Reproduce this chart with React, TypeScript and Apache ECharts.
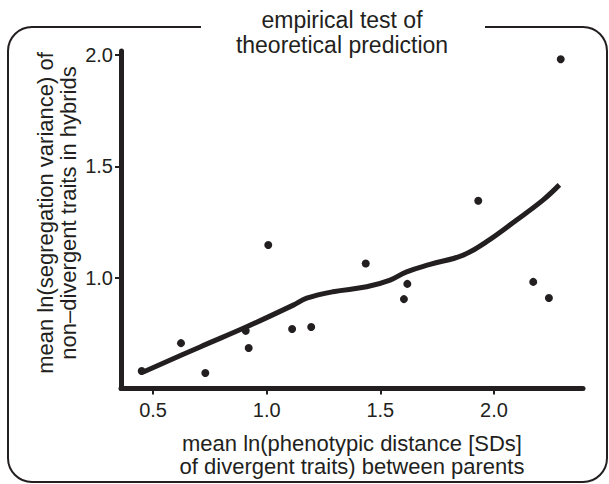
import React, { useEffect, useRef } from "react";
import * as echarts from "echarts";

const pointX = [0.45, 0.623, 0.73, 0.908, 0.921, 1.007, 1.112, 1.196, 1.436, 1.604, 1.619, 1.931, 2.173, 2.242, 2.294];
const pointY = [0.584, 0.709, 0.575, 0.764, 0.687, 1.148, 0.772, 0.781, 1.065, 0.906, 0.974, 1.346, 0.983, 0.911, 1.979];

const fitX = [0.457, 0.707, 0.912, 1.117, 1.176, 1.292, 1.44, 1.543, 1.616, 1.719, 1.865, 1.968, 2.1, 2.217, 2.288];
const fitY = [0.58, 0.692, 0.782, 0.879, 0.91, 0.939, 0.961, 0.991, 1.028, 1.061, 1.103, 1.163, 1.26, 1.35, 1.417];

const xTicks = [0.5, 1.0, 1.5, 2.0];
const yTicks = [1.0, 1.5, 2.0];

const titleLines = ["empirical test of", "theoretical prediction"];
const xName = "mean ln(phenotypic distance [SDs]\nof divergent traits) between parents";
const yName = "mean ln(segregation variance) of\nnon\u2013divergent traits in hybrids";

const INK = "#231f20";
const FONT = "'Liberation Sans', Arial, Helvetica, sans-serif";

export default function App() {
  const ref = useRef<HTMLDivElement>(null);
  useEffect(() => {
    if (!ref.current) return;
    const chart = echarts.init(ref.current, null, { renderer: "svg" });
    chart.setOption({
      animation: false,
      backgroundColor: "#ffffff",
      textStyle: { fontFamily: FONT, color: INK },
      grid: {
        left: 121,
        right: 26,
        top: 51,
        bottom: 95.5,
        containLabel: false,
        outerBoundsMode: "none",
      },
      xAxis: {
        type: "value",
        min: 0.359,
        max: 2.392,
        splitLine: { show: false },
        axisLine: { show: true, lineStyle: { color: INK, width: 5 } },
        axisTick: { show: true, length: 6, customValues: xTicks, lineStyle: { color: INK, width: 2 } },
        axisLabel: {
          customValues: xTicks,
          formatter: (v: number) => v.toFixed(1),
          color: INK,
          fontSize: 20,
          fontFamily: FONT,
          margin: 11,
        },
        name: xName,
        nameLocation: "middle",
        nameGap: 43,
        nameTextStyle: {
          color: INK,
          fontSize: 22,
          fontFamily: FONT,
          lineHeight: 23,
          verticalAlign: "top",
        },
      },
      yAxis: {
        type: "value",
        min: 0.506,
        max: 2.016,
        splitLine: { show: false },
        axisLine: { show: true, lineStyle: { color: INK, width: 5 } },
        axisTick: { show: true, length: 6, customValues: yTicks, lineStyle: { color: INK, width: 2 } },
        axisLabel: {
          customValues: yTicks,
          formatter: (v: number) => v.toFixed(1),
          color: INK,
          fontSize: 20,
          fontFamily: FONT,
          margin: 8,
        },
      },
      graphic: [
        {
          type: "rect",
          shape: { x: 8, y: 27, width: 599, height: 455, r: 24 },
          style: { fill: "none", stroke: INK, lineWidth: 2 },
          z: 0,
        },
        {
          type: "rect",
          shape: { x: 201, y: 20, width: 284, height: 16 },
          style: { fill: "#ffffff", stroke: "none" },
          z: 1,
        },
        {
          type: "text",
          x: 342,
          y: 32.5,
          z: 2,
          style: {
            text: titleLines.join("\n"),
            fill: INK,
            fontSize: 23,
            fontFamily: FONT,
            lineHeight: 25,
            align: "center",
            verticalAlign: "middle",
          },
        },
        {
          type: "text",
          x: 57,
          y: 213,
          rotation: Math.PI / 2,
          z: 2,
          style: {
            text: yName,
            fill: INK,
            fontSize: 22,
            fontFamily: FONT,
            lineHeight: 23,
            align: "center",
            verticalAlign: "middle",
          },
        },
      ],
      series: [
        {
          type: "line",
          data: fitX.map((x, i) => [x, fitY[i]]),
          smooth: 0.4,
          showSymbol: false,
          symbol: "none",
          lineStyle: { color: INK, width: 5, opacity: 1 },
          z: 3,
        },
        {
          type: "scatter",
          data: pointX.map((x, i) => [x, pointY[i]]),
          symbol: "circle",
          symbolSize: 8,
          itemStyle: { color: INK, opacity: 1 },
          z: 4,
        },
      ],
    });
    return () => chart.dispose();
  }, []);
  return <div ref={ref} style={{ width: 609, height: 484, position: "absolute", left: 0, top: 0 }} />;
}
